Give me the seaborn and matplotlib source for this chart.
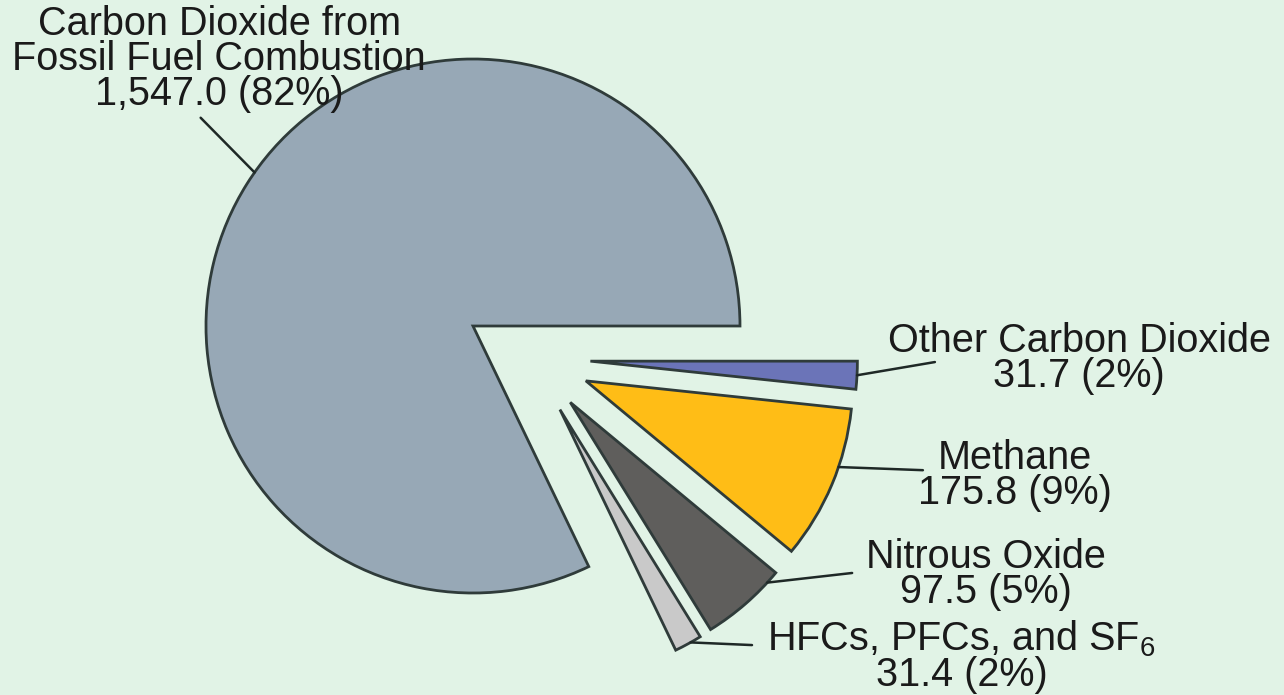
import numpy as np
import matplotlib
matplotlib.use("Agg")
import matplotlib.pyplot as plt
import seaborn as sns

# ===== data (Tg CO2 Eq.) =====
gases = [
    "Carbon Dioxide from\nFossil Fuel Combustion",
    "Other Carbon Dioxide",
    "Methane",
    "Nitrous Oxide",
    r"HFCs, PFCs, and SF$_\mathregular{6}$",
]
emissions = [1547.0, 31.7, 175.8, 97.5, 31.4]
colors = ["#97A8B6", "#6B74B8", "#FFBD16", "#5F5E5C", "#C9C9C9"]

# ===== style =====
sns.set_theme(style="white")
plt.rcParams["font.family"] = ["Liberation Sans", "DejaVu Sans"]
plt.rcParams["mathtext.fontset"] = "custom"
plt.rcParams["mathtext.rm"] = "Liberation Sans"
plt.rcParams["mathtext.it"] = "Liberation Sans"

bg = "#E1F3E6"
fig = plt.figure(figsize=(12.84, 6.95), dpi=100, facecolor=bg)
ax = fig.add_axes([0, 0, 1, 1])
ax.set_facecolor(bg)

total = sum(emissions)
start = 360 * emissions[0] / total
wp = dict(edgecolor="#2F3B3A", linewidth=2)

# big slice
main, _ = ax.pie(emissions, colors=colors, startangle=start,
                 counterclock=False, wedgeprops=wp)
for w in main[1:]:
    w.set_visible(False)

# small slices pulled out as a group
small, _ = ax.pie(emissions, colors=colors, startangle=start,
                  counterclock=False, center=(0.22, -0.12),
                  explode=[0, 0.22, 0.22, 0.22, 0.22], wedgeprops=wp)
small[0].set_visible(False)

wedges = [main[0]] + list(small[1:])

# ===== labels + leader lines =====
label_pos = [(-0.95, 1.0), (2.27, -0.12), (2.03, -0.56), (1.92, -0.93), (1.83, -1.235)]
line_end = [(-1.02, 0.78), (1.73, -0.135), (1.685, -0.54), (1.42, -0.925), (1.045, -1.195)]
anchor = [0.49, 0.5, 0.62, 0.85, 0.6]   # where along the arc the leader touches

for w, name, val, (tx, ty), (lx, ly), f in zip(wedges, gases, emissions,
                                               label_pos, line_end, anchor):
    ang = np.deg2rad(w.theta1 + f * (w.theta2 - w.theta1))
    cx, cy = w.center
    px, py = cx + w.r * np.cos(ang), cy + w.r * np.sin(ang)
    ax.plot([px, lx], [py, ly], color="#1E2826", lw=1.8)
    ax.text(tx, ty, f"{name}\n{val:,.1f} ({val / total * 100:.0f}%)",
            ha="center", va="center", fontsize=28.5, color="#1A1A1A",
            linespacing=0.9)

ax.set_xlim(-1.7715, 3.0375)
ax.set_ylim(-1.382, 1.221)
ax.set_aspect("equal")
ax.axis("off")

fig.savefig("out.png", dpi=100, facecolor=bg)
